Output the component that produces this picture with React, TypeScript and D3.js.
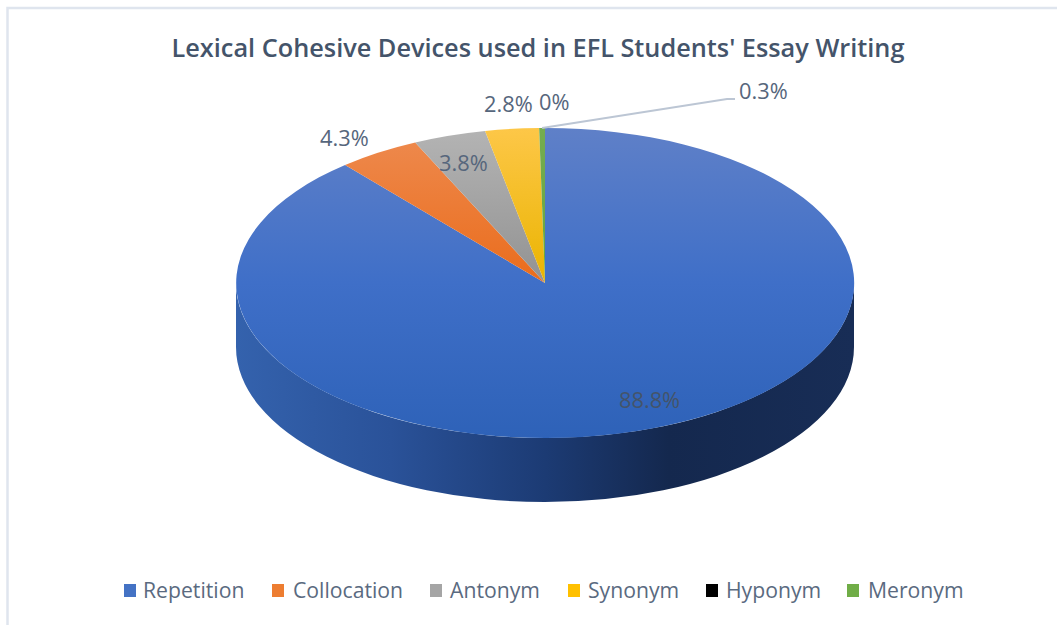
import React from "react";
import * as d3 from "d3";

const WIDTH = 1057;
const HEIGHT = 625;

const TITLE = "Lexical Cohesive Devices used in EFL Students' Essay Writing";
const categories = ["Repetition", "Collocation", "Antonym", "Synonym", "Hyponym", "Meronym"];
const shares = [88.8, 4.3, 3.8, 2.8, 0, 0.3];
const labels = ["88.8%", "4.3%", "3.8%", "2.8%", "0%", "0.3%"];
const colors = ["#4472c4", "#ed7d31", "#a5a5a5", "#ffc000", "#000000", "#70ad47"];
const topLight = ["#5f80c8", "#ee8b50", "#b4b4b4", "#fdc748", "#222222", "#74ad50"];
const topMid = ["#3f6fc8", "#ea6c1c", "#929292", "#eab400", "#000000", "#66a53f"];
const topDark = ["#2e62b8", "#ea6c1c", "#929292", "#eab400", "#000000", "#66a53f"];

// where each label sits, as offset from the pie centre
const labelPos: [number, number][] = [
  [74, 125],
  [-225, -137],
  [-106, -112],
  [-61, -171],
  [-6, -173],
  [194, -184],
];

const legendX = [124, 272, 430, 568, 706, 847];
const legendTextX = [143, 293, 450, 588, 726, 868];

const cx = 545;
const cy = 283;
const rx = 309;
const ry = 155;
const depth = 64;

const font = "'Open Sans', 'Noto Sans', sans-serif";

const App: React.FC = () => {
  const pie = d3.pie<number>().sort(null).value((d) => d);
  const slices = pie(shares);
  const arc = d3.arc<d3.PieArcDatum<number>>().innerRadius(0).outerRadius(1);

  // side wall is only visible along the front half of the ellipse
  const side = `M${cx - rx},${cy} A${rx},${ry} 0 0 0 ${cx + rx},${cy} L${cx + rx},${cy + depth} A${rx},${ry} 0 0 1 ${cx - rx},${cy + depth} Z`;

  // leader line for the small green slice
  const meronym = slices[5];
  const midAngle = (meronym.startAngle + meronym.endAngle) / 2;
  const line = d3.line();
  const leader = line([
    [cx + rx * Math.sin(midAngle), cy - ry * Math.cos(midAngle)],
    [cx + 182, cy - 184],
    [cx + 190, cy - 184],
  ]) as string;

  return (
    <svg
      width={WIDTH}
      height={HEIGHT}
      viewBox={`0 0 ${WIDTH} ${HEIGHT}`}
      style={{ position: "absolute", left: 0, top: 0, background: "#fff" }}
    >
      <defs>
        <linearGradient id="sideFill" gradientUnits="userSpaceOnUse" x1={cx - rx} x2={cx + rx} y1={0} y2={0}>
          <stop offset="0%" stopColor="#3462ad" />
          <stop offset="25%" stopColor="#2a5299" />
          <stop offset="50%" stopColor="#1c3b74" />
          <stop offset="70%" stopColor="#14284e" />
          <stop offset="100%" stopColor="#182d56" />
        </linearGradient>
        {/* gradients live in the unit space of the scaled pie group */}
        {categories.map((c, i) => (
          <linearGradient key={c} id={`slice${i}`} gradientUnits="userSpaceOnUse" x1={0} x2={0} y1={-1} y2={1}>
            <stop offset="0%" stopColor={topLight[i]} />
            <stop offset="50%" stopColor={topMid[i]} />
            <stop offset="100%" stopColor={topDark[i]} />
          </linearGradient>
        ))}
      </defs>

      {/* chart frame */}
      <path d={`M7.5,${HEIGHT} V8 H${WIDTH}`} fill="none" stroke="#dfe5ee" strokeWidth={2.5} />

      <text
        x={538}
        y={57}
        textAnchor="middle"
        fontFamily={font}
        fontWeight={600}
        fontSize={25.3}
        fill="#44546a"
      >
        {TITLE}
      </text>

      <path d={side} fill="url(#sideFill)" />
      <g transform={`translate(${cx},${cy}) scale(${rx},${ry})`}>
        {slices.map((s, i) => (
          <path key={categories[i]} d={arc(s) as string} fill={`url(#slice${i})`} />
        ))}
      </g>

      <path d={leader} fill="none" stroke="#bcc6d4" strokeWidth={2} />

      {labels.map((l, i) => (
        <text
          key={categories[i]}
          x={cx + labelPos[i][0]}
          y={cy + labelPos[i][1]}
          fontFamily={font}
          fontSize={21.8}
          fill={i === 0 ? "#44546a" : "#56667c"}
        >
          {l}
        </text>
      ))}

      {categories.map((c, i) => (
        <g key={c}>
          <rect x={legendX[i]} y={584} width={12} height={13} fill={colors[i]} />
          <text x={legendTextX[i]} y={598} fontFamily={font} fontSize={21.2} fill="#5a6a80">
            {c}
          </text>
        </g>
      ))}
    </svg>
  );
};

export default App;
